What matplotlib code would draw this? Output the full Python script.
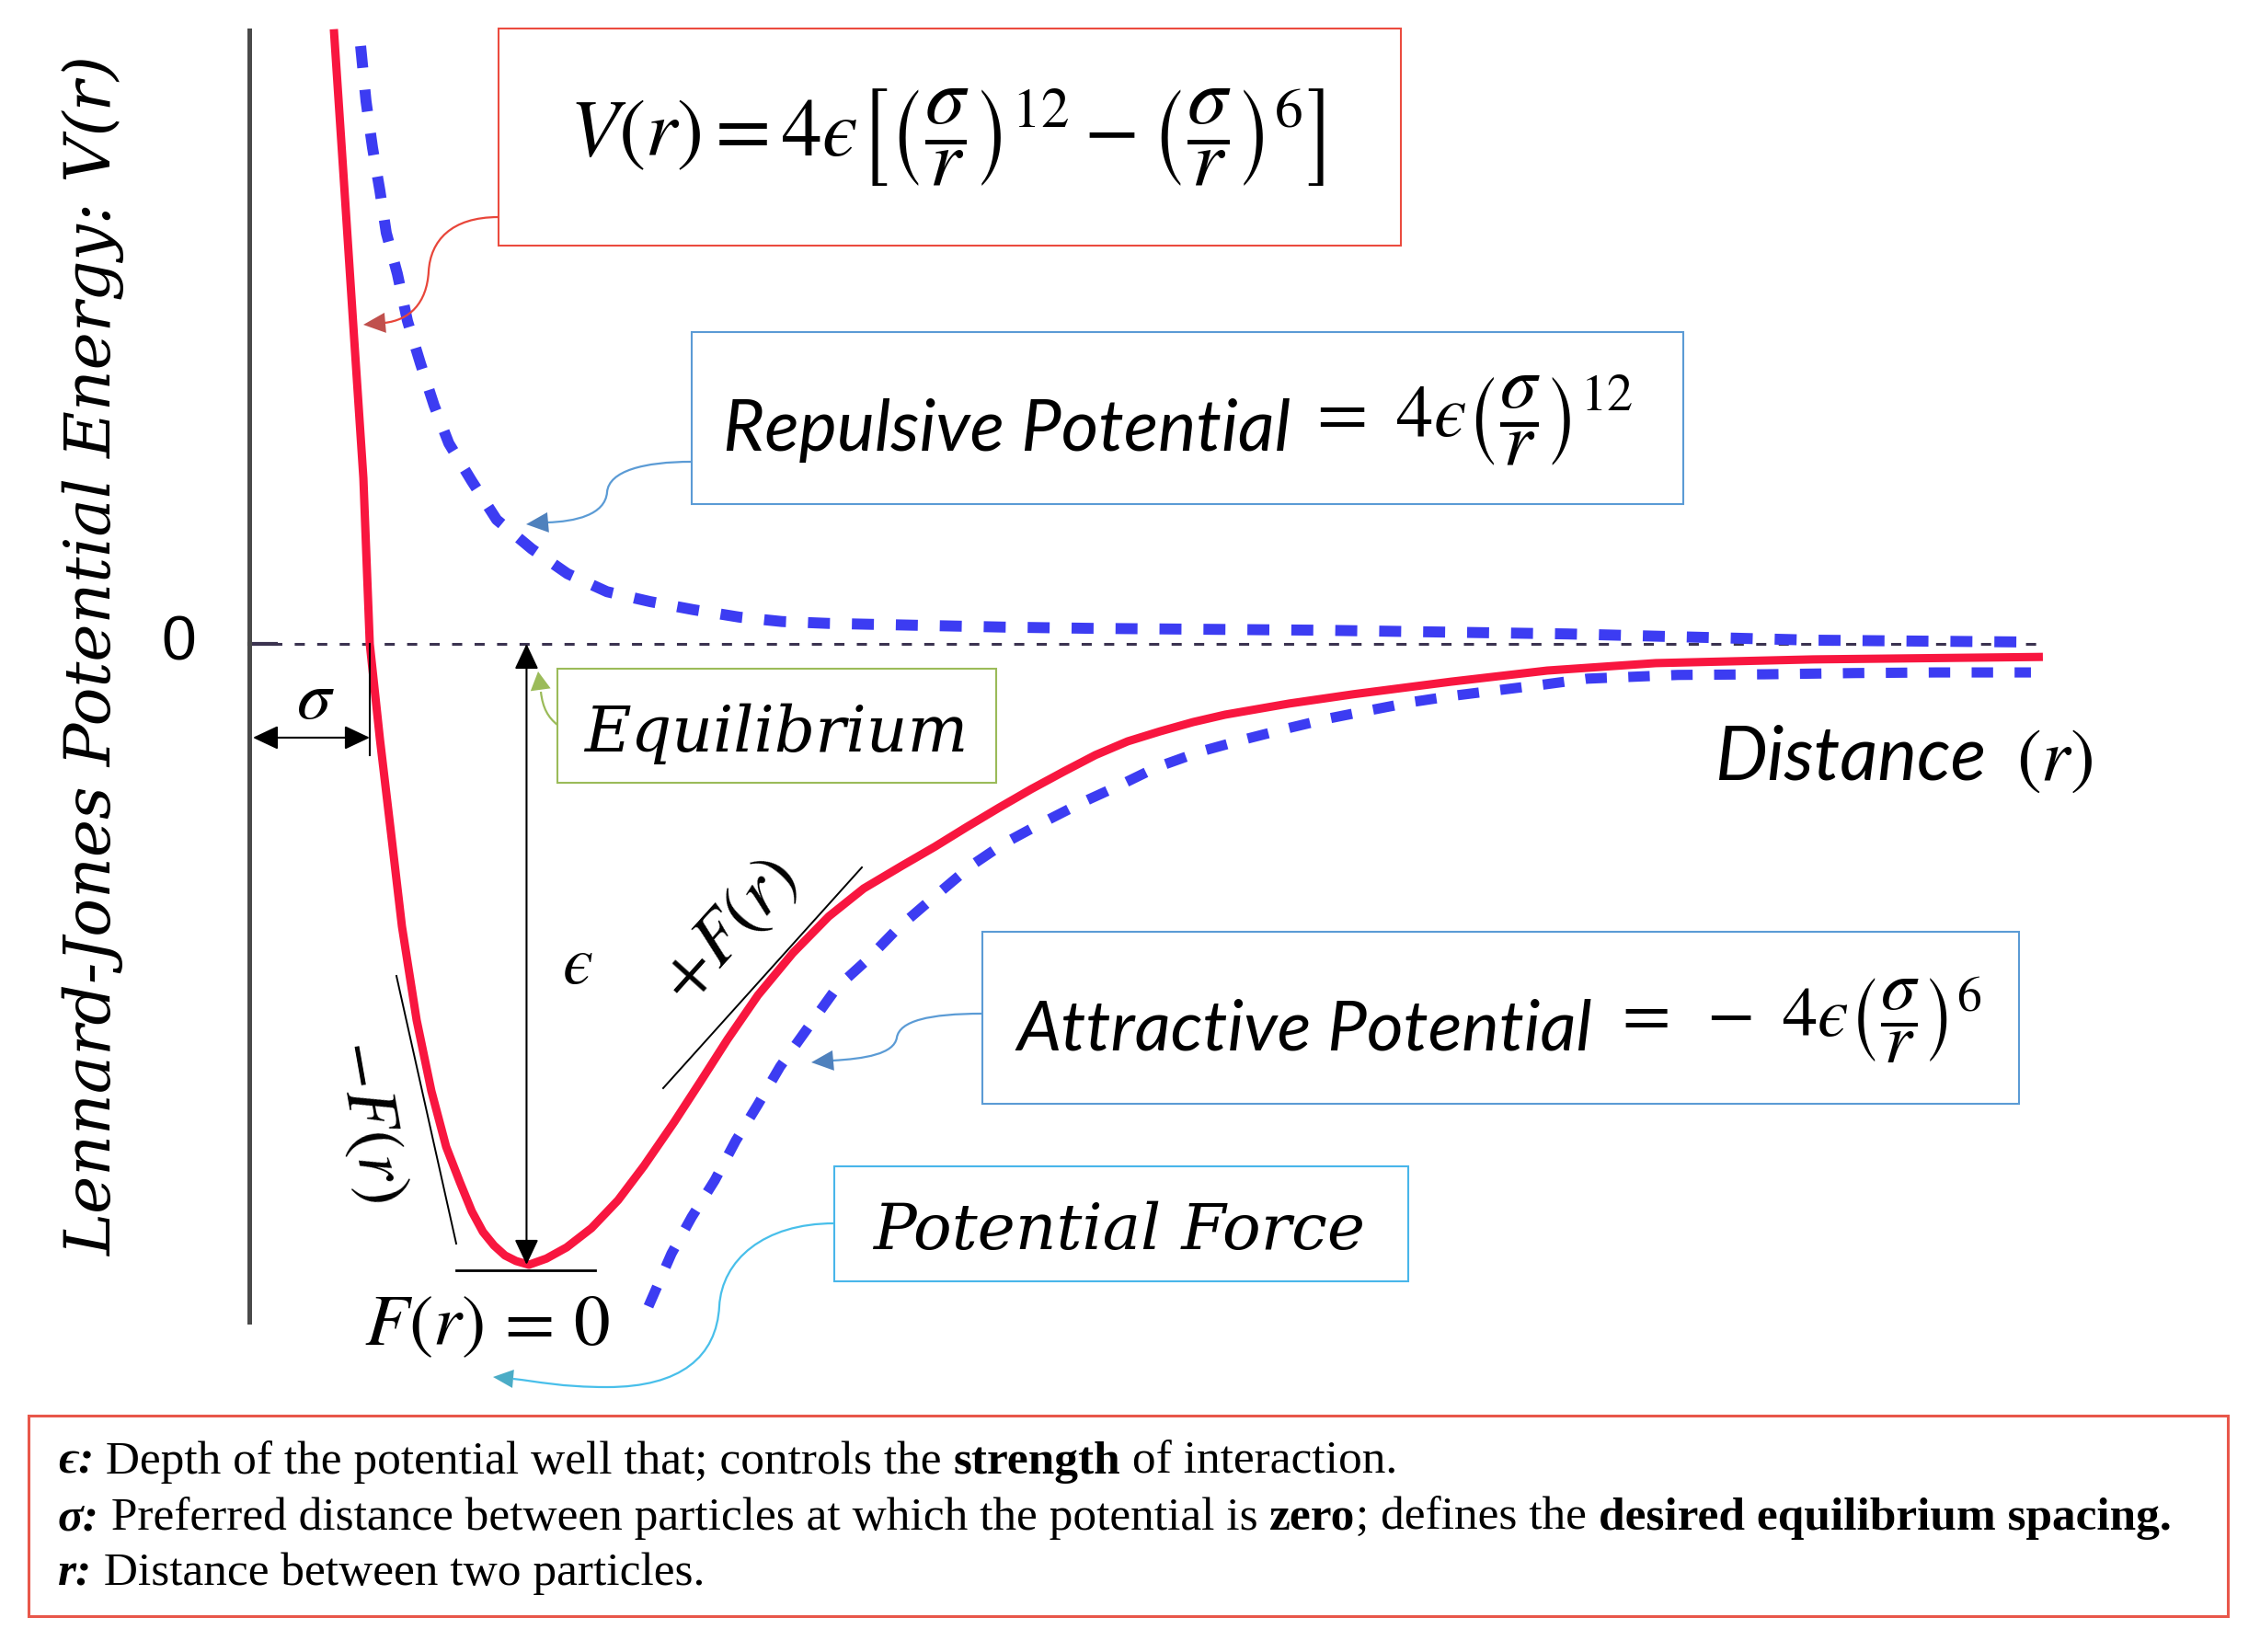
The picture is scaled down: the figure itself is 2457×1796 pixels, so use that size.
import numpy as np
import matplotlib.pyplot as plt
from matplotlib.path import Path
from matplotlib.patches import PathPatch, Polygon, Rectangle

# curves: r in units of sigma, V in units of epsilon
r_total = [0.702, 0.779, 0.870, 0.947, 1.000, 1.084, 1.176, 1.267, 1.389, 1.511,
           1.634, 1.748, 1.847, 1.939, 2.031, 2.122, 2.214, 2.321, 2.466, 2.634,
           2.840, 3.061, 3.275, 3.527, 3.748, 3.969, 4.221, 4.511, 4.809, 5.099,
           5.420, 5.687, 5.954, 6.221, 6.489, 6.756, 7.023, 7.290, 7.557, 7.832,
           8.099, 8.634, 9.168, 9.969, 10.771, 11.672, 12.977, 14.885]
v_total = [0.990, 0.764, 0.493, 0.267, 0.000, -0.153, -0.304, -0.455, -0.606, -0.720,
           -0.810, -0.867, -0.914, -0.947, -0.969, -0.985, -0.994, -1.000, -0.990, -0.972,
           -0.941, -0.896, -0.841, -0.770, -0.704, -0.637, -0.566, -0.498, -0.439, -0.394,
           -0.357, -0.327, -0.295, -0.264, -0.234, -0.206, -0.179, -0.157, -0.141, -0.126,
           -0.114, -0.096, -0.081, -0.061, -0.043, -0.031, -0.025, -0.021]

r_rep = [0.924, 0.969, 1.023, 1.084, 1.137, 1.229, 1.313, 1.420, 1.534, 1.656,
         1.847, 2.053, 2.344, 2.641, 2.969, 3.328, 3.687, 4.069, 4.420, 4.802,
         5.527, 6.267, 6.992, 8.893, 10.939, 12.977, 14.756]
v_rep = [0.963, 0.874, 0.799, 0.730, 0.662, 0.596, 0.520, 0.452, 0.384, 0.323,
         0.262, 0.200, 0.153, 0.113, 0.084, 0.068, 0.055, 0.043, 0.036, 0.033,
         0.030, 0.027, 0.025, 0.022, 0.016, 0.006, 0.003]

r_att = [3.313, 3.504, 3.672, 3.863, 4.038, 4.221, 4.405, 4.626, 4.878, 5.122,
         5.382, 5.687, 5.992, 6.267, 6.573, 6.916, 7.221, 7.527, 7.901, 8.275,
         8.618, 8.962, 9.298, 9.672, 10.015, 10.389, 10.763, 11.107, 11.481, 11.855,
         12.573, 13.321, 14.000, 14.786]
v_att = [-1.067, -0.982, -0.923, -0.864, -0.800, -0.742, -0.681, -0.621, -0.553, -0.510,
         -0.458, -0.407, -0.357, -0.321, -0.289, -0.255, -0.228, -0.199, -0.173, -0.153,
         -0.136, -0.120, -0.107, -0.093, -0.083, -0.074, -0.065, -0.056, -0.053, -0.050,
         -0.049, -0.047, -0.046, -0.046]

sigma = 1.0
r_end = 14.9

notes = [
    [("ϵ:", "bi"), (" Depth of the potential well that; controls the ", ""), ("strength", "b"),
     (" of interaction.", "")],
    [("σ:", "bi"), (" Preferred distance between particles at which the potential is ", ""),
     ("zero", "b"), ("; defines the ", ""), ("desired equilibrium spacing.", "b")],
    [("r:", "bi"), (" Distance between two particles.", "")],
]

W, H = 2457, 1796
fig = plt.figure(figsize=(W / 100, H / 100), dpi=100)

# data axes (r, V)
ax = fig.add_axes([0, 0, 1, 1])
ax.set_xlim(-271 / 131, (W - 271) / 131)
ax.set_ylim((700 - H) / 675, 700 / 675)
ax.axis('off')

ax.plot(r_rep, v_rep, color='#3c3cf2', lw=8.6, dashes=(2.0, 2.0), zorder=3)
ax.plot(r_att, v_att, color='#3c3cf2', lw=8.0, dashes=(2.1, 2.1), zorder=3)
ax.plot(r_total, v_total, color='#f8163f', lw=6.5, solid_capstyle='butt',
        solid_joinstyle='round', zorder=4)

ax.plot([0, r_end], [0, 0], color='#3b3350', lw=2.2, dashes=(3.6, 4.4), zorder=2)
ax.plot([0, 0.22], [0, 0], color='#3b3350', lw=3, zorder=2)
ax.plot([0, 0], [0.988, -1.092], color='#4a4a4a', lw=3.6, zorder=2)

# epsilon and sigma markers
i_min = int(np.argmin(v_total))
r_min = r_total[i_min]
ax.annotate('', xy=(r_min - 0.02, min(v_total)), xytext=(r_min - 0.02, 0),
            arrowprops=dict(arrowstyle='<|-|>,head_length=1.7,head_width=0.8',
                            color='black', lw=1.5, shrinkA=0, shrinkB=0), zorder=5)
ax.annotate('', xy=(sigma, -0.151), xytext=(0.03, -0.151),
            arrowprops=dict(arrowstyle='<|-|>,head_length=1.7,head_width=0.8',
                            color='black', lw=1.5, shrinkA=0, shrinkB=0), zorder=5)
ax.plot([sigma, sigma], [0, -0.179], color='black', lw=1.5, zorder=5)

# overlay in pixel units for the call-outs
ov = fig.add_axes([0, 0, 1, 1])
ov.set_xlim(0, W)
ov.set_ylim(H, 0)
ov.axis('off')
ov.patch.set_alpha(0)


def box(x0, y0, x1, y1, color, lw=1.5):
    ov.add_patch(Rectangle((x0, y0), x1 - x0, y1 - y0, fc='white', ec=color, lw=lw, zorder=4))


def connector(verts, color, lw=1.6):
    codes = [Path.MOVETO] + [Path.CURVE4] * (len(verts) - 1)
    ov.add_patch(PathPatch(Path(verts, codes), fc='none', ec=color, lw=lw, zorder=5))


def head(tip, base, color, length=24, width=22):
    tip = np.array(tip, float)
    d = tip - np.array(base, float)
    d /= np.hypot(*d)
    n = np.array([-d[1], d[0]])
    b = tip - d * length
    ov.add_patch(Polygon([tip, b + n * width / 2, b - n * width / 2], closed=True,
                         fc=color, ec='none', zorder=6))


math_kw = dict(math_fontfamily='stix', color='black', zorder=7)
frac = r'\left(\dfrac{\sigma}{r}\right)'

# V(r) formula
box(542, 31, 1523, 267, '#eb4b3f')
ov.text(1029, 150, r'$V(r) = 4ϵ\left[' + frac + '^{12} - ' + frac + r'^{6}\right]$',
        fontsize=63, ha='center', va='center', **math_kw)
connector([(542, 236), (490, 236), (468, 262), (466, 295), (464, 330), (445, 348), (418, 351)], '#e8463a')
head((395, 353), (418, 351), '#c0504d')

# repulsive
box(752, 361, 1830, 548, '#5b9bd5')
ov.text(786, 490, 'Repulsive Potential', fontsize=56, family='Lato', style='italic', zorder=7)
ov.text(1420, 458, r'$=\ 4ϵ' + frac + '^{12}$', fontsize=58,
        ha='left', va='center', **math_kw)
connector([(752, 502), (700, 502), (662, 512), (660, 535), (658, 560), (625, 567), (595, 568)], '#5b9bd5')
head((572, 570), (595, 568), '#4f81bd')

# equilibrium
box(606, 727, 1083, 851, '#9bbb59')
ov.text(844, 817, 'Equilibrium', fontsize=50, family='DejaVu Serif', style='italic',
        ha='center', zorder=7)
connector([(606, 788), (596, 780), (590, 770), (588, 752)], '#9bbb59')
head((585, 730), (588, 752), '#9bbb59', length=20, width=22)

# attractive
box(1068, 1013, 2195, 1200, '#5b9bd5')
ov.text(1105, 1142, 'Attractive Potential', fontsize=55, family='Lato', style='italic', zorder=7)
ov.text(1752, 1110, r'$=\ -\ 4ϵ' + frac + '^{6}$', fontsize=55,
        ha='left', va='center', **math_kw)
connector([(1068, 1102), (1010, 1102), (978, 1110), (975, 1128), (972, 1146), (940, 1151), (905, 1153)], '#5b9bd5')
head((882, 1155), (905, 1153), '#4f81bd')

# potential force
box(907, 1268, 1531, 1393, '#48b6ea')
ov.text(1217, 1358, 'Potential Force', fontsize=50, family='DejaVu Serif', style='italic',
        ha='center', zorder=7)
connector([(907, 1330), (830, 1330), (785, 1370), (782, 1420), (779, 1475), (740, 1508),
           (660, 1508), (610, 1508), (585, 1502), (558, 1499)], '#48bfea')
head((536, 1497), (558, 1499), '#4bacc6', length=22, width=20)

# tangent lines and force labels
ov.plot([431, 496], [1061, 1352], color='black', lw=1.4, zorder=5)
ov.plot([721, 937], [1183, 943], color='black', lw=1.4, zorder=5)
ov.plot([496, 647], [1381, 1381], color='black', lw=2.0, zorder=5)
ov.text(403, 1218, r'$-F(r)$', fontsize=55, rotation=-80, rotation_mode='anchor',
        ha='center', va='center', **math_kw)
ov.text(791, 1011, r'$+F(r)$', fontsize=57, rotation=48, rotation_mode='anchor',
        ha='center', va='center', **math_kw)
ov.text(530, 1440, r'$F(r)\,=\,0$', fontsize=57, ha='center', va='center', **math_kw)
ov.text(628, 1048, r'$ϵ$', fontsize=54, ha='center', va='center', **math_kw)
ov.text(343, 760, r'$\sigma$', fontsize=54, ha='center', va='center', **math_kw)

# axis texts
ov.text(194, 699, '0', fontsize=49, family='Liberation Sans', ha='center', va='center', zorder=7)
ov.text(102, 713, 'Lennard-Jones Potential Energy: V(r)', fontsize=50, family='DejaVu Serif',
        style='italic', rotation=90, ha='center', va='center', zorder=7)
ov.text(1864, 848, 'Distance', fontsize=58, family='Lato', style='italic', zorder=7)
ov.text(2275, 848, r'$(r)$', fontsize=58, ha='right', va='baseline', **math_kw)

# definitions box
box(31, 1539, 2422, 1757, '#e8574a', lw=2.2)
renderer = fig.canvas.get_renderer()


def width_px(s, **kw):
    t = ov.text(0, 0, s + '|', **kw)
    w1 = t.get_window_extent(renderer).width
    t.remove()
    t = ov.text(0, 0, '|', **kw)
    w2 = t.get_window_extent(renderer).width
    t.remove()
    return w1 - w2


for line, y in zip(notes, [1602, 1663, 1723]):
    x = 63
    for s, st in line:
        kw = dict(fontsize=37, family=['Liberation Serif', 'DejaVu Serif'],
                  fontweight='bold' if 'b' in st else 'normal',
                  fontstyle='italic' if 'i' in st else 'normal')
        ov.text(x, y, s, va='baseline', ha='left', zorder=7, **kw)
        x += width_px(s, **kw)

fig.savefig('out.png', dpi=100)
